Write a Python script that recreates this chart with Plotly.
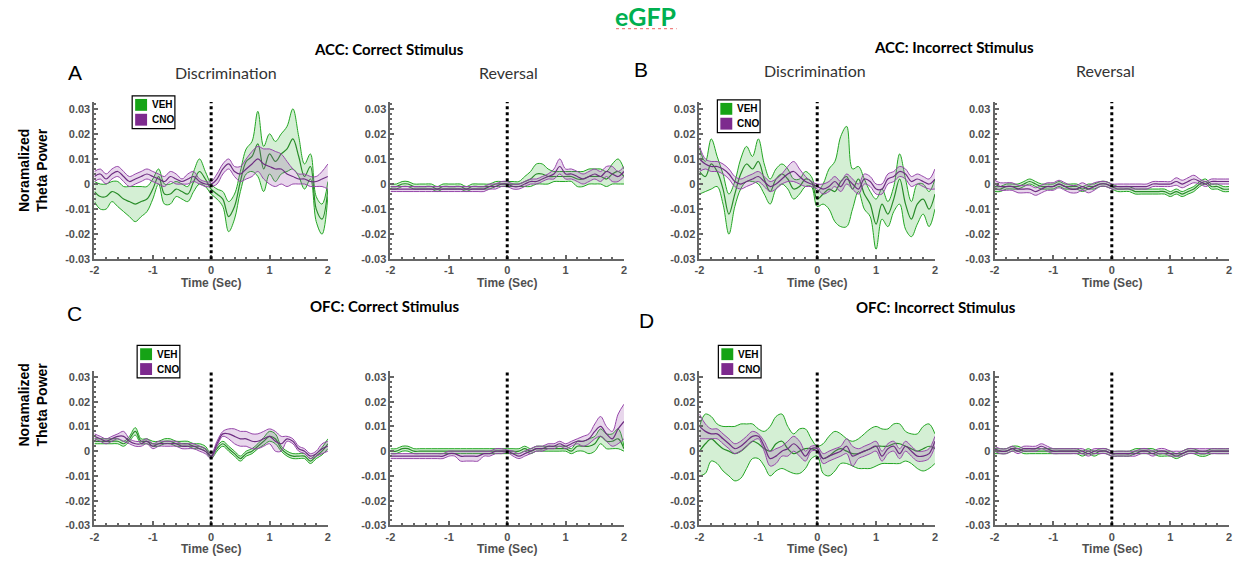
import plotly.graph_objects as go

W, H = 1238, 567

# time axis (seconds)
t = [round(-2.0 + 0.1 * i, 1) for i in range(41)]

# values are in units of 1e-3 (normalized theta power x 1000)
UNIT = 1e-3

# Panel A - ACC correct, Discrimination
accC_dis_veh_mean = [-3,-5,-5,-3,-4,-6,-7,-8,-7,-6,-2,3,-4,-4,-2,-3,-4,1,5,2,-2,-4,-6,-13,-9,1,9,11,16,6,12,9,12,14,18,11,3,7,-10,-14,-2]
accC_dis_veh_sem  = [4,5,5,4,5,5,6,7,6,5,4,3,4,4,3,3,3,4,5,3,2,2,3,6,5,4,5,6,13,9,8,8,8,9,12,8,5,5,5,6,3]
accC_dis_cno_mean = [3,4,2,4,5,3,1,2,3,4,3,2,1,3,2,1,2,3,1,0,0,2,6,8,5,4,6,8,10,8,7,6,6,4,3,2,2,1,1,2,3]
accC_dis_cno_sem  = [2,2,2,2,2,2,2,2,2,2,2,2,2,2,2,1,2,2,1,1,1,2,2,2,2,3,4,5,5,6,7,7,6,5,3,2,2,2,2,3,5]
# Panel A - ACC correct, Reversal
accC_rev_veh_mean = [-1,-1,0,0,-1,-1,-1,-1,-2,-1,-1,-1,-1,-2,-1,-1,-1,-1,0,0,0,0,0,1,2,4,4,3,3,3,3,3,2,2,3,3,3,2,4,5,3]
accC_rev_veh_sem  = [1,1,1,1,1,1,1,1,1,1,1,1,1,1,1,1,1,1,1,1,1,1,1,2,3,4,4,3,2,2,2,2,3,3,3,3,3,3,4,5,3]
accC_rev_cno_mean = [-2,-2,-2,-2,-2,-2,-2,-2,-2,-2,-2,-2,-2,-2,-2,-2,-2,-1,-1,0,0,-1,-1,0,1,1,2,3,4,7,4,4,3,2,3,4,3,5,4,3,5]
accC_rev_cno_sem  = [1,1,1,1,1,1,1,1,1,1,1,1,1,1,1,1,1,1,1,1,1,1,1,1,1,1,1,1,2,3,2,2,2,2,2,2,2,2,3,2,2]
# Panel B - ACC incorrect, Discrimination
accI_dis_veh_mean = [5,3,8,5,-2,-12,-4,4,8,6,9,2,-3,2,4,2,-2,-1,2,1,-6,-4,-2,-3,1,3,-2,2,-4,-8,-16,-8,-12,-6,2,-8,-14,-8,-6,-10,-4]
accI_dis_veh_sem  = [9,6,10,6,6,8,5,6,7,5,9,6,5,4,4,4,4,3,3,2,3,4,8,12,18,20,8,5,6,5,10,6,5,5,10,10,7,8,6,7,6]
accI_dis_cno_mean = [10,8,7,7,6,4,1,0,1,2,3,1,-1,0,2,4,5,3,1,0,-1,-2,-1,1,-1,2,0,-2,2,1,-2,-2,2,3,5,4,1,2,1,0,2]
accI_dis_cno_sem  = [5,2,2,2,2,2,2,2,2,2,2,2,2,2,2,3,4,3,2,1,1,2,2,2,2,2,2,2,2,2,2,2,2,2,2,2,2,2,2,2,4]
# Panel B - ACC incorrect, Reversal
accI_rev_veh_mean = [-2,-2,-1,-1,-1,0,1,0,-1,-1,-1,0,-1,-1,-1,-2,-1,-1,0,0,-1,-2,-2,-2,-3,-3,-3,-3,-3,-3,-4,-3,-4,-3,-2,0,1,-1,-1,-2,-2]
accI_rev_veh_sem  = [1,1,1,1,1,1,1,1,1,1,1,1,1,1,1,1,1,1,1,1,1,1,1,1,1,1,1,1,1,1,1,1,1,1,1,1,1,1,1,1,1]
accI_rev_cno_mean = [0,-1,-1,-1,-2,-2,-2,-3,-2,-1,-1,0,-1,-2,-2,-1,-2,-1,0,0,-1,-1,-1,-1,-1,-1,-1,0,0,0,0,1,0,1,2,1,0,1,1,1,1]
accI_rev_cno_sem  = [1.5,1.5,1.5,1.5,1.5,1.5,1.5,1.5,1.5,1.5,1.5,1.5,1.5,1.5,1.5,1.5,1.5,1.5,1,1,1,1,1,1,1,1,1,1,1,1,1,1.5,1.5,1.5,1.5,1,1,1,1,1,1]
# Panel C - OFC correct, Discrimination
ofcC_dis_veh_mean = [4,4,4,4,4,3,5,8,4,4,3,3,4,4,3,3,3,2,2,1,-2,1,3,1,-1,-3,-1,0,2,4,6,5,1,-1,-2,-2,-2,-4,-2,0,3]
ofcC_dis_veh_sem  = [1,1,1,1,1,1,1,1.5,1,1,1,1,1,1,1,1,1,1,1,1,1,1,1,1,1,1,1,1,1,1.5,2,2,1,1,1,1,1,1,1,1.5,2]
ofcC_dis_cno_mean = [6,5,4,5,6,6,4,3,3,4,2,3,3,3,3,2,2,2,1,0,-2,3,7,7,6,5,5,4,4,5,6,4,3,5,4,1,0,-2,-1,1,2]
ofcC_dis_cno_sem  = [1,1,1,1,1,2,1,1,1,1,1,1,1,1,1,1,1,1,1,1,1,1,1,2,3,3,3,3,3,3,3,4,3,1,1,1,1,1,1,2,2]
# Panel C - OFC correct, Reversal
ofcC_rev_veh_mean = [0,0,1,1,0,0,0,0,0,0,0,0,0,0,0,0,0,0,0,0,0,0,0,1,0,1,1,1,1,1,1,0,2,2,2,3,6,4,4,5,1]
ofcC_rev_veh_sem  = [1,1,1,1,1,1,1,1,1,1,1,1,1,1,1,1,1,1,1,1,1,1,1,1,1,1,1,1,1,1,1,1,2,2,3,3,3,3,3,4,1]
ofcC_rev_cno_mean = [-2,-2,-2,-2,-2,-2,-2,-2,-2,-2,-1,-1,-2,-2,-2,-2,-1,-1,0,0,0,-1,-2,-1,0,1,1,2,2,3,2,3,4,4,5,8,10,7,5,9,12]
ofcC_rev_cno_sem  = [1,1,1,1,1,1,1,1,1,1,1,1,2,2,2,2,1,1,1,1,0.5,1,1,1,1,1,1,1,1,1,1,1,1,2,2,3,4,3,3,6,7]
# Panel D - OFC incorrect, Discrimination
ofcI_dis_veh_mean = [0,3,5,3,1,0,-1,0,2,4,3,1,0,3,4,1,-1,0,1,1,0,-3,-2,0,1,0,-1,-1,0,1,2,2,2,3,3,2,1,0,1,2,1]
ofcI_dis_veh_sem  = [10,12,9,8,9,10,11,11,9,7,6,7,10,11,11,9,8,9,8,4,2,6,8,8,6,5,5,6,7,8,8,7,7,8,8,6,6,7,9,9,6]
ofcI_dis_cno_mean = [10,8,7,7,5,3,1,2,4,6,6,2,-3,-2,0,1,3,1,-2,1,1,-3,-2,-1,0,2,-2,-1,0,1,2,-2,1,2,-1,2,0,-2,-2,-1,4]
ofcI_dis_cno_sem  = [5,3,2,2,2,2,2,2,2,2,1,2,3,3,2,3,3,3,2,1,1,2,2,2,2,3,4,2,2,2,2,2,2,2,2,2,2,2,2,2,2]
# Panel D - OFC incorrect, Reversal
ofcI_rev_veh_mean = [0,0,0,1,1,0,0,0,0,0,0,0,0,0,0,-1,0,-1,0,0,-1,-1,-1,-1,0,0,0,0,-1,-1,-1,-2,-1,0,0,-1,-1,0,0,0,0]
ofcI_rev_veh_sem  = [1,1,1,1,1,1,1,1,1,1,1,1,1,1,1,1,1,1,1,1,1,1,1,1,1,1,1,1,1,1,1,1,1,1,1,1,1,1,1,1,1]
ofcI_rev_cno_mean = [1,0,0,1,0,1,1,1,2,1,0,0,0,0,0,0,-1,0,0,0,-1,-1,-1,-1,-1,0,0,-1,0,0,-1,-1,-1,0,0,0,0,0,0,0,0]
ofcI_rev_cno_sem  = [1,1,1,1,1,1,1,1,1,1,1,1,1,1,1,1,1,1,1,1,1,1,1,1,1,1,1,1,1,1,1,1,1,1,1,1,1,1,1,1,1]

panels = [
    (accC_dis_veh_mean, accC_dis_veh_sem, accC_dis_cno_mean, accC_dis_cno_sem),
    (accC_rev_veh_mean, accC_rev_veh_sem, accC_rev_cno_mean, accC_rev_cno_sem),
    (accI_dis_veh_mean, accI_dis_veh_sem, accI_dis_cno_mean, accI_dis_cno_sem),
    (accI_rev_veh_mean, accI_rev_veh_sem, accI_rev_cno_mean, accI_rev_cno_sem),
    (ofcC_dis_veh_mean, ofcC_dis_veh_sem, ofcC_dis_cno_mean, ofcC_dis_cno_sem),
    (ofcC_rev_veh_mean, ofcC_rev_veh_sem, ofcC_rev_cno_mean, ofcC_rev_cno_sem),
    (ofcI_dis_veh_mean, ofcI_dis_veh_sem, ofcI_dis_cno_mean, ofcI_dis_cno_sem),
    (ofcI_rev_veh_mean, ofcI_rev_veh_sem, ofcI_rev_cno_mean, ofcI_rev_cno_sem),
]

y_tickvals = [-0.03, -0.02, -0.01, 0, 0.01, 0.02, 0.03]
y_ticktext = ["-0.03", "-0.02", "-0.01", "0", "0.01", "0.02", "0.03"]
x_tickvals = [-2, -1, 0, 1, 2]
x_ticktext = ["-2", "-1", "0", "1", "2"]

GREEN_LINE = "rgb(34,165,34)"
GREEN_MEAN = "rgb(40,140,40)"
GREEN_FILL = "rgba(40,175,40,0.2)"
PURPLE_LINE = "rgb(150,70,170)"
PURPLE_MEAN = "rgb(110,45,130)"
PURPLE_FILL = "rgba(150,75,170,0.22)"

def px(x):
    return x / W

def py(y):
    return 1 - y / H

col_px = [(90, 325), (388, 623), (699, 936), (996, 1232)]
row_px = [(103, 262, 0.03276), (375, 531, 0.0324)]

fig = go.Figure()
layout = dict(
    width=W, height=H, margin=dict(l=0, r=0, t=0, b=0),
    paper_bgcolor="white", plot_bgcolor="white", showlegend=False,
)

axis_common = dict(
    showline=True, linecolor="#666666", linewidth=2, showgrid=False, zeroline=False,
    ticks="inside", ticklen=4, tickwidth=1.5, tickcolor="#666666",
    tickfont=dict(family="Liberation Sans", size=11, color="#505050", weight="bold"),
)

shapes = []
annotations = []

for i, (vm, vs, cm, cs) in enumerate(panels):
    r, c = divmod(i, 4)
    n = i + 1
    xa = "x" if n == 1 else f"x{n}"
    ya = "y" if n == 1 else f"y{n}"
    xk = "xaxis" if n == 1 else f"xaxis{n}"
    yk = "yaxis" if n == 1 else f"yaxis{n}"
    x0p, x1p = col_px[c]
    top, bot, ytop = row_px[r]
    layout[xk] = dict(axis_common, domain=[px(x0p), px(x1p)], range=[-2, 2], anchor=ya,
                      tickvals=x_tickvals, ticktext=x_ticktext,
                      minor=dict(dtick=0.2, ticks="inside", ticklen=2, tickcolor="#666666"))
    layout[yk] = dict(axis_common, domain=[py(bot), py(top)], range=[-0.03, ytop], anchor=xa,
                      tickvals=y_tickvals, ticktext=y_ticktext,
                      minor=dict(dtick=0.002, ticks="inside", ticklen=2, tickcolor="#666666"))

    for mean, sem, lc, mc, fc in [(vm, vs, GREEN_LINE, GREEN_MEAN, GREEN_FILL),
                                  (cm, cs, PURPLE_LINE, PURPLE_MEAN, PURPLE_FILL)]:
        up = [(m + s) * UNIT for m, s in zip(mean, sem)]
        lo = [(m - s) * UNIT for m, s in zip(mean, sem)]
        mm = [m * UNIT for m in mean]
        fig.add_trace(go.Scatter(x=t, y=up, mode="lines", xaxis=xa, yaxis=ya,
                                 line=dict(color=lc, width=1, shape="spline", smoothing=1.0),
                                 hoverinfo="skip"))
        fig.add_trace(go.Scatter(x=t, y=lo, mode="lines", xaxis=xa, yaxis=ya, fill="tonexty",
                                 fillcolor=fc,
                                 line=dict(color=lc, width=1, shape="spline", smoothing=1.0),
                                 hoverinfo="skip"))
        fig.add_trace(go.Scatter(x=t, y=mm, mode="lines", xaxis=xa, yaxis=ya,
                                 line=dict(color=mc, width=1.2, shape="spline", smoothing=1.0),
                                 hoverinfo="skip"))

    # stimulus onset dotted line
    shapes.append(dict(type="line", xref=xa, yref=f"{ya} domain", x0=0, x1=0, y0=0, y1=1,
                       line=dict(color="black", width=3, dash="dot")))
    # x title
    annotations.append(dict(text="<b>Time (Sec)</b>", xref="paper", yref="paper",
                            x=px((x0p + x1p) / 2), y=py(bot + 24), xanchor="center", yanchor="middle",
                            showarrow=False, font=dict(family="Liberation Sans", size=12, color="#505050")))

# y titles
for yc in [172, 409]:
    annotations.append(dict(text="<b>Noramalized<br>Theta Power</b>", xref="paper", yref="paper",
                            x=px(28), y=py(yc), textangle=-90, showarrow=False,
                            xanchor="center", yanchor="middle",
                            font=dict(family="Liberation Sans", size=14, color="black")))

# section titles
for txt, xc, yc in [("ACC: Correct Stimulus", 387, 50), ("ACC: Incorrect Stimulus", 955, 48),
                    ("OFC: Correct Stimulus", 382, 309), ("OFC: Incorrect Stimulus", 937, 310)]:
    annotations.append(dict(text=f"<b>{txt}</b>", xref="paper", yref="paper", x=px(xc), y=py(yc),
                            showarrow=False, xanchor="center", yanchor="middle",
                            font=dict(family="Lato", size=15, color="black")))

# panel letters
for txt, xc, yc in [("A", 70, 73), ("B", 640, 70), ("C", 70, 317), ("D", 646, 324)]:
    annotations.append(dict(text=txt, xref="paper", yref="paper", x=px(xc), y=py(yc),
                            showarrow=False, xanchor="center", yanchor="middle",
                            font=dict(family="Liberation Sans", size=21, color="black")))

# column headers
for txt, xc, yc in [("Discrimination", 222, 73), ("Reversal", 507, 73),
                    ("Discrimination", 815, 71), ("Reversal", 1108, 71)]:
    annotations.append(dict(text=txt, xref="paper", yref="paper", x=px(xc), y=py(yc),
                            showarrow=False, xanchor="center", yanchor="middle",
                            font=dict(family="Lato", size=16, color="#333333")))

# main title
annotations.append(dict(text="<b>eGFP</b>", xref="paper", yref="paper", x=px(645), y=py(16),
                        showarrow=False, xanchor="center", yanchor="middle",
                        font=dict(family="Lato", size=25, color="#00B050")))
shapes.append(dict(type="line", xref="paper", yref="paper", x0=px(615), x1=px(676),
                   y0=py(29), y1=py(29), line=dict(color="rgba(230,60,60,0.8)", width=1, dash="dot")))

# legend boxes
for bx, by in [(128, 97), (717, 101), (133, 349), (718, 349)]:
    shapes.append(dict(type="rect", xref="paper", yref="paper", x0=px(bx), x1=px(bx + 43),
                       y0=py(by + 33), y1=py(by), line=dict(color="black", width=1.2),
                       fillcolor="white"))
    for k, (col, lab) in enumerate([("#16A316", "VEH"), ("#7D2A8E", "CNO")]):
        sy = by + 3 + k * 15
        shapes.append(dict(type="rect", xref="paper", yref="paper", x0=px(bx + 3), x1=px(bx + 15),
                           y0=py(sy + 12), y1=py(sy), line=dict(width=0), fillcolor=col))
        annotations.append(dict(text=f"<b>{lab}</b>", xref="paper", yref="paper",
                                x=px(bx + 18), y=py(sy + 6), showarrow=False,
                                xanchor="left", yanchor="middle",
                                font=dict(family="Liberation Sans", size=10, color="black")))

layout["shapes"] = shapes
layout["annotations"] = annotations
fig.update_layout(**layout)
post = (
    "document.body.style.margin='0px';"
    "document.body.style.padding='0px';"
)
fig.write_html("out.html", config={"displayModeBar": False}, post_script=post)
